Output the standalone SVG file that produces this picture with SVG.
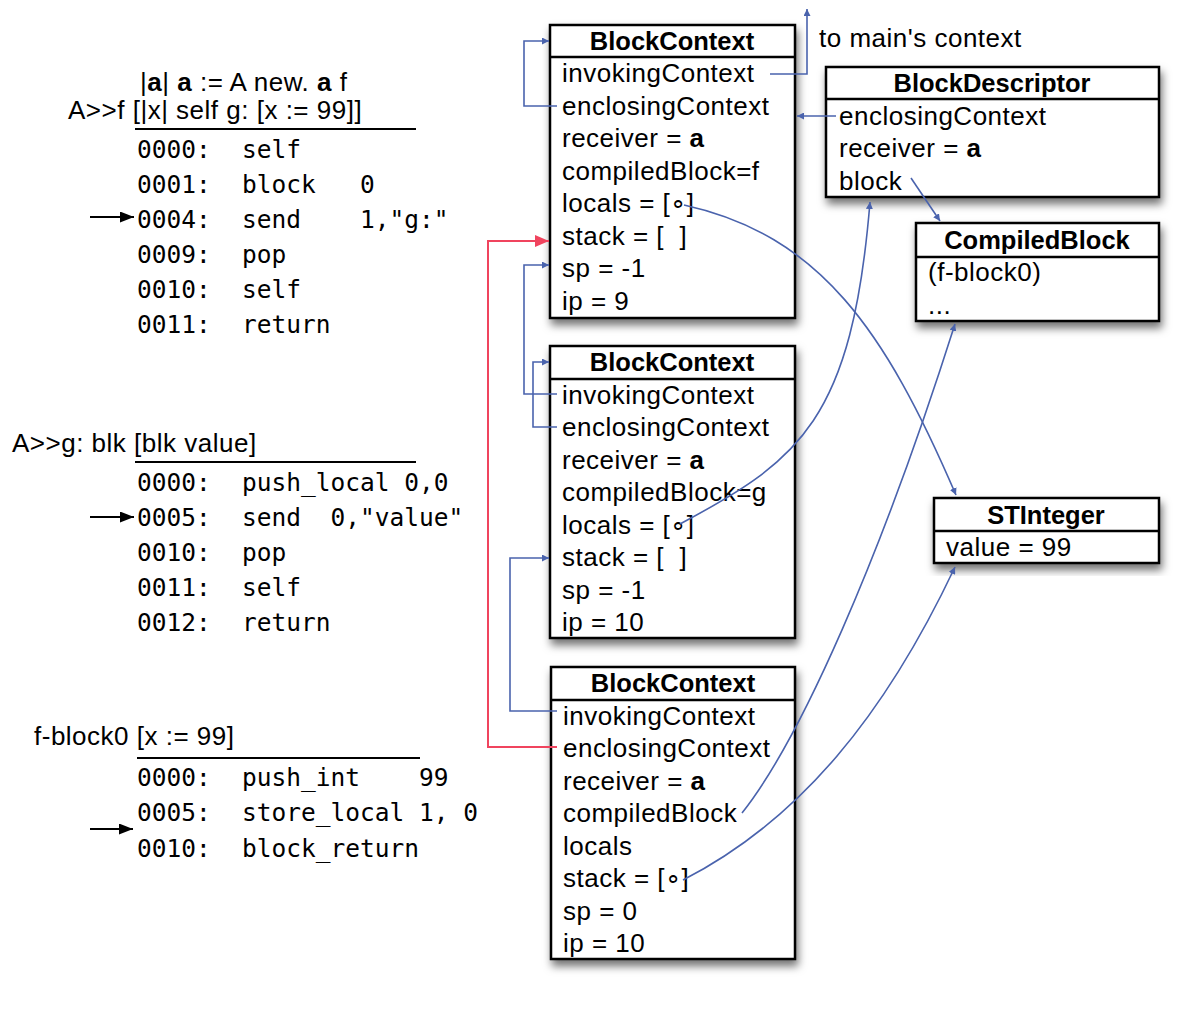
<svg xmlns="http://www.w3.org/2000/svg" width="1188" height="1018" viewBox="0 0 1188 1018">
<style>
.t{font-family:"Liberation Sans",Arial,sans-serif;font-size:26px;letter-spacing:0.5px;fill:#000}
.h{font-family:"Liberation Sans",Arial,sans-serif;font-size:25.5px;font-weight:bold;text-anchor:middle;fill:#000}
.m{font-family:"DejaVu Sans Mono",monospace;font-size:24.5px;fill:#000}
.b{font-weight:bold}
.box{fill:#fff;stroke:#000;stroke-width:2.5}
.div{stroke:#000;stroke-width:2.5}
.ul{stroke:#000;stroke-width:2}
.c{fill:none;stroke:#4a63ad;stroke-width:1.6}
.r{fill:none;stroke:#f0445e;stroke-width:2}
.k{fill:none;stroke:#000;stroke-width:2}
</style>
<defs>
<filter id="sh" x="-10%" y="-10%" width="130%" height="130%">
<feDropShadow dx="2" dy="6" stdDeviation="4" flood-color="#000" flood-opacity="0.55"/>
</filter>
<marker id="ab" viewBox="0 0 10 10" refX="10" refY="5" markerWidth="7" markerHeight="7" markerUnits="userSpaceOnUse" orient="auto">
<path d="M0,0 L10,5 L0,10 z" fill="#4a63ad"/>
</marker>
<marker id="ar" viewBox="0 0 10 10" refX="10" refY="5" markerWidth="14" markerHeight="12" markerUnits="userSpaceOnUse" orient="auto" preserveAspectRatio="none">
<path d="M0,0 L10,5 L0,10 z" fill="#f0445e"/>
</marker>
<marker id="ak" viewBox="0 0 10 10" refX="10" refY="5" markerWidth="14" markerHeight="11" markerUnits="userSpaceOnUse" orient="auto" preserveAspectRatio="none">
<path d="M0,0 L10,5 L0,10 z" fill="#000"/>
</marker>
</defs>

<g id="code-f">
<text class="t" x="140" y="91">|<tspan class="b">a</tspan>| <tspan class="b">a</tspan> := A new. <tspan class="b">a</tspan> f</text>
<text class="t" x="68" y="119">A&gt;&gt;f [|x| self g: [x := 99]]</text>
<line class="ul" x1="135" y1="129" x2="416" y2="129"/>
<text class="m" y="158" xml:space="preserve"><tspan x="137">0000:</tspan><tspan x="242">self</tspan></text>
<text class="m" y="193" xml:space="preserve"><tspan x="137">0001:</tspan><tspan x="242">block   0</tspan></text>
<text class="m" y="228" xml:space="preserve"><tspan x="137">0004:</tspan><tspan x="242">send    1,"g:"</tspan></text>
<text class="m" y="263" xml:space="preserve"><tspan x="137">0009:</tspan><tspan x="242">pop</tspan></text>
<text class="m" y="298" xml:space="preserve"><tspan x="137">0010:</tspan><tspan x="242">self</tspan></text>
<text class="m" y="333" xml:space="preserve"><tspan x="137">0011:</tspan><tspan x="242">return</tspan></text>
<line class="k" x1="90" y1="217" x2="134" y2="217" marker-end="url(#ak)"/>
</g>

<g id="code-g">
<text class="t" x="12" y="452">A&gt;&gt;g: blk [blk value]</text>
<line class="ul" x1="135" y1="462" x2="416" y2="462"/>
<text class="m" y="491" xml:space="preserve"><tspan x="137">0000:</tspan><tspan x="242">push_local 0,0</tspan></text>
<text class="m" y="526" xml:space="preserve"><tspan x="137">0005:</tspan><tspan x="242">send  0,"value"</tspan></text>
<text class="m" y="561" xml:space="preserve"><tspan x="137">0010:</tspan><tspan x="242">pop</tspan></text>
<text class="m" y="596" xml:space="preserve"><tspan x="137">0011:</tspan><tspan x="242">self</tspan></text>
<text class="m" y="631" xml:space="preserve"><tspan x="137">0012:</tspan><tspan x="242">return</tspan></text>
<line class="k" x1="90" y1="517" x2="134" y2="517" marker-end="url(#ak)"/>
</g>

<g id="code-block0">
<text class="t" x="34" y="745">f-block0 [x := 99]</text>
<line class="ul" x1="137" y1="758" x2="420" y2="758"/>
<text class="m" y="786" xml:space="preserve"><tspan x="137">0000:</tspan><tspan x="242">push_int    99</tspan></text>
<text class="m" y="821" xml:space="preserve"><tspan x="137">0005:</tspan><tspan x="242">store_local 1, 0</tspan></text>
<text class="m" y="857" xml:space="preserve"><tspan x="137">0010:</tspan><tspan x="242">block_return</tspan></text>
<line class="k" x1="90" y1="829" x2="133" y2="829" marker-end="url(#ak)"/>
</g>

<g id="bc1">
<rect class="box" x="550" y="25" width="245" height="293" filter="url(#sh)"/>
<line class="div" x1="550" y1="57" x2="795" y2="57"/>
<text class="h" x="672" y="50">BlockContext</text>
<text class="t" x="562" y="82">invokingContext</text>
<text class="t" x="562" y="115">enclosingContext</text>
<text class="t" x="562" y="147">receiver = <tspan class="b">a</tspan></text>
<text class="t" x="562" y="180">compiledBlock=f</text>
<text class="t" x="562" y="212">locals = [∘]</text>
<text class="t" x="562" y="245" xml:space="preserve">stack = [  ]</text>
<text class="t" x="562" y="277">sp = -1</text>
<text class="t" x="562" y="310">ip = 9</text>
</g>

<g id="bc2">
<rect class="box" x="550" y="346" width="245" height="292" filter="url(#sh)"/>
<line class="div" x1="550" y1="379" x2="795" y2="379"/>
<text class="h" x="672" y="371">BlockContext</text>
<text class="t" x="562" y="404">invokingContext</text>
<text class="t" x="562" y="436">enclosingContext</text>
<text class="t" x="562" y="469">receiver = <tspan class="b">a</tspan></text>
<text class="t" x="562" y="501">compiledBlock=g</text>
<text class="t" x="562" y="534">locals = [∘]</text>
<text class="t" x="562" y="566" xml:space="preserve">stack = [  ]</text>
<text class="t" x="562" y="599">sp = -1</text>
<text class="t" x="562" y="631">ip = 10</text>
</g>

<g id="bc3">
<rect class="box" x="551" y="667" width="244" height="292" filter="url(#sh)"/>
<line class="div" x1="551" y1="700" x2="795" y2="700"/>
<text class="h" x="673" y="692">BlockContext</text>
<text class="t" x="563" y="725">invokingContext</text>
<text class="t" x="563" y="757">enclosingContext</text>
<text class="t" x="563" y="790">receiver = <tspan class="b">a</tspan></text>
<text class="t" x="563" y="822">compiledBlock</text>
<text class="t" x="563" y="855">locals</text>
<text class="t" x="563" y="887">stack = [∘]</text>
<text class="t" x="563" y="920">sp = 0</text>
<text class="t" x="563" y="952">ip = 10</text>
</g>

<g id="blockdescriptor">
<rect class="box" x="826" y="67" width="333" height="130" filter="url(#sh)"/>
<line class="div" x1="826" y1="99" x2="1159" y2="99"/>
<text class="h" x="992" y="92">BlockDescriptor</text>
<text class="t" x="839" y="125">enclosingContext</text>
<text class="t" x="839" y="157">receiver = <tspan class="b">a</tspan></text>
<text class="t" x="839" y="190">block</text>
</g>

<g id="compiledblock">
<rect class="box" x="916" y="223" width="243" height="98" filter="url(#sh)"/>
<line class="div" x1="916" y1="257" x2="1159" y2="257"/>
<text class="h" x="1037" y="249">CompiledBlock</text>
<text class="t" x="928" y="281">(f-block0)</text>
<text class="t" x="928" y="314">...</text>
</g>

<g id="stinteger">
<rect class="box" x="934" y="498" width="225" height="65" filter="url(#sh)"/>
<line class="div" x1="934" y1="531" x2="1159" y2="531"/>
<text class="h" x="1046" y="524">STInteger</text>
<text class="t" x="946" y="556">value = 99</text>
</g>

<g id="label-main">
<text class="t" x="819" y="47">to main's context</text>
</g>

<g id="connectors">
<path class="c" d="M770,74 H807 V9" marker-end="url(#ab)"/>
<path class="c" d="M557,106 H524 V41 H549" marker-end="url(#ab)"/>
<path class="c" d="M836,116 H797" marker-end="url(#ab)"/>
<path class="c" d="M911,178 L940,221" marker-end="url(#ab)"/>
<path class="c" d="M684,205 C820,235 885,330 956,495" marker-end="url(#ab)"/>
<path class="c" d="M557,394 H524 V265 H549" marker-end="url(#ab)"/>
<path class="c" d="M557,427 H533 V362 H549" marker-end="url(#ab)"/>
<path class="c" d="M557,711 H510 V558 H549" marker-end="url(#ab)"/>
<path class="r" d="M557,747 H488 V241 H549" marker-end="url(#ar)"/>
<path class="c" d="M680,524 C800,460 852,420 870,202" marker-end="url(#ab)"/>
<path class="c" d="M742,813 C800,740 880,560 955,324" marker-end="url(#ab)"/>
<path class="c" d="M683,880 C800,820 885,715 955,567" marker-end="url(#ab)"/>
</g>
</svg>
